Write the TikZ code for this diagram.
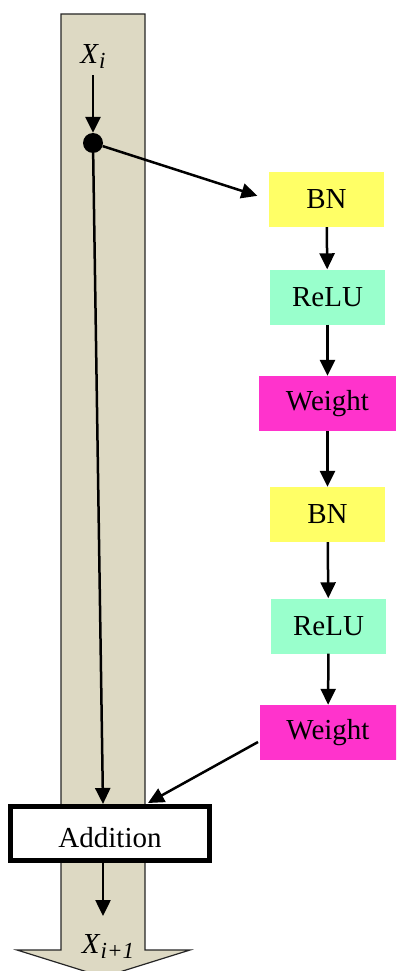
\documentclass[tikz,border=0pt]{standalone}
\usepackage{fontspec}
\setmainfont{Liberation Serif}
\usetikzlibrary{arrows.meta}
\definecolor{shaftc}{HTML}{DDD9C3}
\definecolor{bnc}{HTML}{FFFF66}
\definecolor{reluc}{HTML}{99FFCC}
\definecolor{wc}{HTML}{FF33CC}
\newcommand{\mysub}[1]{\raisebox{-5pt}{\fontsize{23}{26}\selectfont\textit{#1}}}
\begin{document}
\begin{tikzpicture}[x=1pt,y=-1pt,
  blk/.style={minimum height=55pt, inner sep=0pt, font=\fontsize{29}{34}\selectfont},
  lbl/.style={inner sep=2pt, font=\fontsize{29}{34}\selectfont},
  arr/.style={line width=2.5pt, -{Triangle[length=16pt,width=15pt]}},
]
\useasboundingbox (0,0) rectangle (396,971);
\clip (0,0) rectangle (396,971);
% big shaft arrow
\draw[fill=shaftc, draw=black!85, line width=1.2pt]
  (61,14) -- (145,14) -- (145,950) -- (190,950) -- (103.5,977) -- (17,950) -- (61,950) -- cycle;
% labels and split point
\node[lbl] (xi) at (93,57) {\textit{X}\mysub{i}};
\node[circle, fill=black, minimum size=20pt, inner sep=0pt] (dot) at (93,143) {};
% residual branch blocks
\node[blk, fill=bnc, minimum width=115pt] (bn1) at (326.5,199.5) {BN};
\node[blk, fill=reluc, minimum width=115pt] (relu1) at (327.5,297) {ReLU};
\node[blk, fill=wc, minimum width=137pt] (w1) at (327.5,403.5) {Weight};
\node[blk, fill=bnc, minimum width=115pt] (bn2) at (327.5,514.5) {BN};
\node[blk, fill=reluc, minimum width=115pt] (relu2) at (328.5,626) {ReLU};
\node[blk, fill=wc, minimum width=137pt] (w2) at (328,732.5) {Weight};
% addition
\node[draw, line width=5pt, fill=white, minimum width=199pt, minimum height=54pt,
      inner sep=0pt, text height=27pt, text depth=0pt,
      font=\fontsize{29}{34}\selectfont] (add) at (110,833.5) {Addition};
\node[lbl] (xo) at (108,946) {\textit{X}\mysub{i+1}};
% coordinates for free ends
\coordinate (addin) at (103,804);
\coordinate (addin2) at (148,803);
\coordinate (w2out) at (258,742);
\coordinate (outend) at (103,916);
% connectors
\draw[arr, shorten <=4pt] (xi) -- (dot);
\draw[arr, shorten >=12pt] (dot) -- (bn1.west);
\draw[arr] (dot) -- (addin);
\draw[arr] (bn1) -- (relu1);
\draw[arr] (relu1) -- (w1);
\draw[arr] (w1) -- (bn2);
\draw[arr] (bn2) -- (relu2);
\draw[arr] (relu2) -- (w2);
\draw[arr] (w2out) -- (addin2);
\draw[arr] (add.south -| outend) -- (outend);
\end{tikzpicture}
\end{document}
